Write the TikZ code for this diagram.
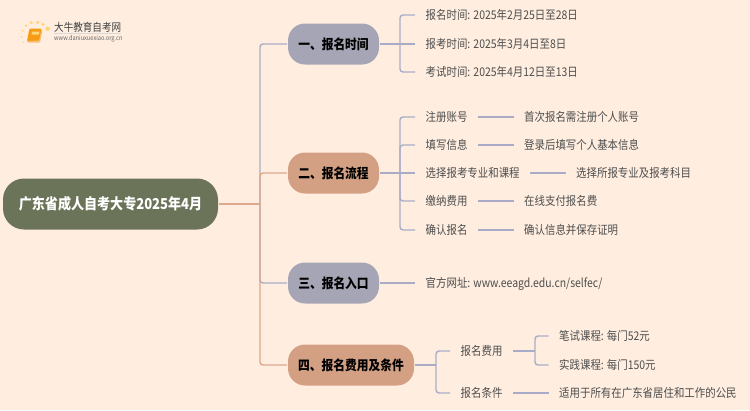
\documentclass[tikz,border=0pt]{standalone}
\usepackage{xcolor}
\usepackage{fontspec}
\setmainfont[FakeStretch=0.87]{Noto Sans CJK SC}
\usepackage{tikz}
\usetikzlibrary{
calc,
positioning,
shapes.geometric
}
\definecolor{paper}{HTML}{FFEEE0}
\definecolor{moss}{HTML}{6B7359}
\definecolor{slate}{HTML}{A6A5B5}
\definecolor{clay}{HTML}{D3A084}
\definecolor{wire}{HTML}{A9ACC6}
\definecolor{wirewarm}{HTML}{DDA88C}
\definecolor{ink}{HTML}{4D4D4D}
\definecolor{sun}{HTML}{FFD778}
\definecolor{cover}{HTML}{F59B14}
\definecolor{pages}{HTML}{F8BE78}
\tikzset{
rootbox/.style={
rounded corners=21,
fill=moss,
text=white,
font=\fontsize{15}{17}\selectfont\bfseries,
minimum width=215,
minimum height=51,
inner sep=0,
outer sep=1
},
branchbox/.style={
rounded corners=17,
fill=#1,
text=black,
font=\fontsize{13.5}{16}\selectfont\bfseries,
minimum height=41,
inner sep=0,
outer sep=1
},
leaf/.style={
anchor=west,
text=ink,
font=\fontsize{12}{14}\selectfont,
text height=9.6,
text depth=1.4,
inner xsep=10.5,
inner ysep=0
},
wirecool/.style={
draw=wire,
line width=1.4,
rounded corners=3
},
wirehot/.style={
draw=wirewarm,
line width=1.4,
rounded corners=3
}
}

\begin{document}
\begin{tikzpicture}[x=1pt,y=-1pt]
\useasboundingbox (0,0) rectangle (750,410);
\fill[paper] (0,0) rectangle (750,410);

\foreach \dotx/\doty/\dotr in {47.7/28.7/2.3,43/24.3/1.8,37.7/22.3/1.8,31.3/22.7/1.7,26/25.7/1.4,22.7/30.7/1.2,21.7/36.7/1,23.3/42.3/.8}
\fill[sun] (\dotx,\doty) circle (\dotr);
\fill[pages, rounded corners=1] (30,30) -- (42.5,30) -- (40,42.5) -- (27,42.5) -- cycle;
\fill[cover, rounded corners=1] (29.5,28.5) -- (41.5,28.5) -- (39,40.5) -- (27,41) -- cycle;
\fill[sun] (32,31.5) -- (39.5,31.5) -- (39,34.5) -- (31.5,34.5) -- cycle;
\node[
text=black!75,
font=\fontsize{11}{13}\selectfont,
anchor=west,
inner sep=0
] (sitename) at (54,27) {大牛教育自考网};
\node[
text=black!60,
font=\fontsize{6.5}{8}\selectfont,
anchor=west,
inner sep=0
] (siteurl) at (54,39) {www.daniuxuexiao.org.cn};
\draw[black!15, line width=.5] (54,33.5) -- (121,33.5);

\node[rootbox] (root) at (110.5,204) {广东省成人自考大专2025年4月};
\coordinate (trunk) at (260,204);

\node[branchbox=slate, minimum width=91] (time) at (333.5,44) {一、报名时间};
\node[branchbox=clay, minimum width=91] (flow) at (333.5,173) {二、报名流程};
\node[branchbox=slate, minimum width=91] (entry) at (333.5,283) {三、报名入口};
\node[branchbox=clay, minimum width=126] (fee) at (351,365) {四、报名费用及条件};

\node[leaf] (timea) at (415,15) {报名时间: 2025年2月25日至28日};
\node[leaf] (timeb) at (415,44) {报考时间: 2025年3月4日至8日};
\node[leaf] (timec) at (415,72) {考试时间: 2025年4月12日至13日};

\node[leaf] (flowa) at (415,117) {注册账号};
\node[leaf] (flowb) at (415,145) {填写信息};
\node[leaf] (flowc) at (415,173) {选择报考专业和课程};
\node[leaf] (flowd) at (415,201) {缴纳费用};
\node[leaf] (flowe) at (415,230) {确认报名};
\node[leaf] (flowaa) at (513.5,117) {首次报名需注册个人账号};
\node[leaf] (flowbb) at (513.5,145) {登录后填写个人基本信息};
\node[leaf] (flowcc) at (565.5,173) {选择所报专业及报考科目};
\node[leaf] (flowdd) at (513.5,201) {在线支付报名费};
\node[leaf] (flowee) at (513.5,230) {确认信息并保存证明};

\node[leaf] (site) at (415,283) {官方网址: www.eeagd.edu.cn/selfec/};

\node[leaf] (feea) at (450,351) {报名费用};
\node[leaf] (feeb) at (450,393) {报名条件};
\node[leaf] (feeaa) at (548.5,336) {笔试课程: 每门52元};
\node[leaf] (feeab) at (548.5,365) {实践课程: 每门150元};
\node[leaf] (feebb) at (548.5,393) {适用于所有在广东省居住和工作的公民};

\coordinate (timehub) at (400,44);
\coordinate (flowhub) at (400,173);
\coordinate (feehub) at (436,365);
\coordinate (feeahub) at (535,351);

\draw[wirehot] (root.east) -- (trunk);
\draw[wirecool] (trunk) |- (time.west);
\draw[wirecool] (trunk) |- (entry.west);
\draw[wirehot] (trunk) |- (flow.west);
\draw[wirehot] (trunk) |- (fee.west);

\draw[wirecool] (time.east) -- (timeb.west);
\draw[wirecool] (timehub) |- (timea.west);
\draw[wirecool] (timehub) |- (timec.west);

\draw[wirecool] (flow.east) -- (flowc.west);
\draw[wirecool] (flowhub) |- (flowa.west);
\draw[wirecool] (flowhub) |- (flowb.west);
\draw[wirecool] (flowhub) |- (flowd.west);
\draw[wirecool] (flowhub) |- (flowe.west);
\draw[wirecool] (flowa.east) -- (flowaa.west);
\draw[wirecool] (flowb.east) -- (flowbb.west);
\draw[wirecool] (flowc.east) -- (flowcc.west);
\draw[wirecool] (flowd.east) -- (flowdd.west);
\draw[wirecool] (flowe.east) -- (flowee.west);

\draw[wirecool] (entry.east) -- (site.west);

\draw[wirecool] (fee.east) -- (feehub);
\draw[wirecool] (feehub) |- (feea.west);
\draw[wirecool] (feehub) |- (feeb.west);
\draw[wirecool] (feea.east) -- (feeahub);
\draw[wirecool] (feeahub) |- (feeaa.west);
\draw[wirecool] (feeahub) |- (feeab.west);
\draw[wirecool] (feeb.east) -- (feebb.west);

\end{tikzpicture}
\end{document}
